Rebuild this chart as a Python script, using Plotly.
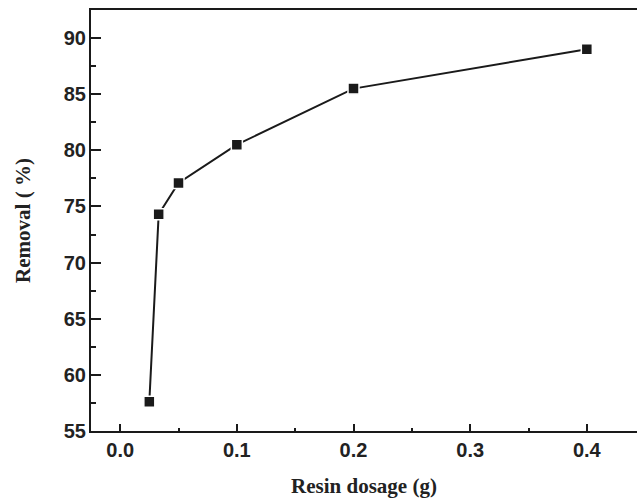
import plotly.graph_objects as go

dosage = [0.025, 0.033, 0.05, 0.1, 0.2, 0.4]
removal = [57.6, 74.3, 77.1, 80.5, 85.5, 89.0]
x_ticks = [0.0, 0.1, 0.2, 0.3, 0.4]
y_ticks = [55, 60, 65, 70, 75, 80, 85, 90]

fig = go.Figure()
fig.add_trace(go.Scatter(
    x=dosage, y=removal, mode="lines+markers",
    line=dict(color="#1a1a1a", width=2),
    marker=dict(symbol="square", size=11, color="#1a1a1a", line=dict(color="white", width=1.5)),
    showlegend=False,
))

tickfont = dict(family="Liberation Sans, Arial", size=20, color="#222")
titlefont = dict(family="Liberation Serif, Times New Roman", size=21, color="#222")

fig.update_layout(
    width=637, height=498,
    margin=dict(l=91, r=0, t=10, b=67),
    plot_bgcolor="white", paper_bgcolor="white",
    xaxis=dict(
        range=[-0.025, 0.443],
        tickvals=x_ticks,
        ticktext=[f"<b>{v:.1f}</b>" for v in x_ticks],
        ticks="inside", ticklen=7, tickwidth=2, tickcolor="#1a1a1a",
        minor=dict(tickvals=[0.05, 0.15, 0.25, 0.35], ticks="inside", ticklen=3, tickwidth=2, tickcolor="#1a1a1a"),
        showline=True, linewidth=2, linecolor="#1a1a1a", mirror=True,
        showgrid=False, zeroline=False,
        tickfont=tickfont, ticklabelstandoff=0,
        title=dict(text="<b>Resin dosage (g)</b>", font=titlefont, standoff=22),
    ),
    yaxis=dict(
        range=[55, 92.5],
        tickvals=y_ticks,
        ticktext=[f"<b>{v}</b>" for v in y_ticks],
        ticks="inside", ticklen=10, tickwidth=2, tickcolor="#1a1a1a",
        minor=dict(tickvals=[57.5, 62.5, 67.5, 72.5, 77.5, 82.5, 87.5], ticks="inside", ticklen=5, tickwidth=2, tickcolor="#1a1a1a"),
        showline=True, linewidth=2, linecolor="#1a1a1a",
        showgrid=False, zeroline=False,
        tickfont=tickfont, ticklabelstandoff=-1,
        title=dict(text="<b>Removal ( %)</b>", font=titlefont, standoff=27),
    ),
)

fig.write_html("out.html")
